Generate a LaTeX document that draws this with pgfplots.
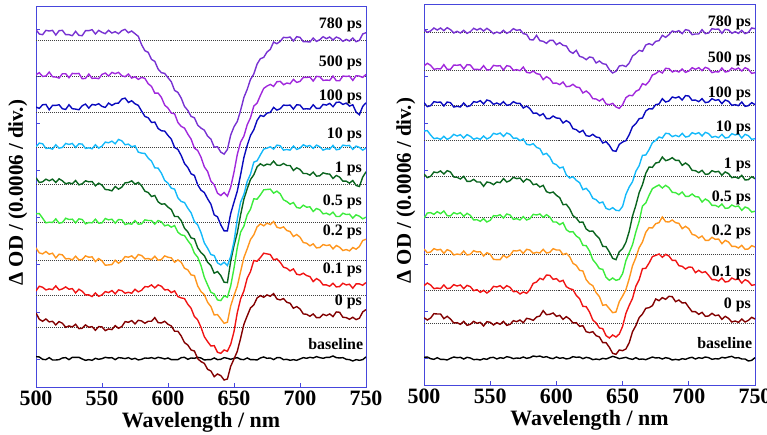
\documentclass[border=0pt]{standalone}
\usepackage{pgfplots}
\pgfplotsset{compat=1.18}
\usepackage{pgfplotstable}
\usepackage{fontspec}
\setmainfont{Liberation Serif}

\definecolor{frameblue}{RGB}{70,70,220}
\definecolor{cBase}{RGB}{0,0,0}
\definecolor{cZero}{RGB}{130,0,0}
\definecolor{cPointOne}{RGB}{240,20,20}
\definecolor{cPointTwo}{RGB}{255,150,30}
\definecolor{cPointFive}{RGB}{60,235,60}
\definecolor{cOne}{RGB}{10,100,30}
\definecolor{cTen}{RGB}{20,185,250}
\definecolor{cHundred}{RGB}{10,10,190}
\definecolor{cFiveHundred}{RGB}{160,40,220}
\definecolor{cSevenEighty}{RGB}{120,50,210}

% Transient absorption difference spectra, offset per delay (arb. units)
% columns: wavelength, baseline, 0, 0.1, 0.2, 0.5, 1, 10, 100, 500, 780 ps
\pgfplotstableread{
wl b d0 d01 d02 d05 d1 d10 d100 d500 d780
500 6 42 13 37 24 20 3 17 6 33
502.5 5 23 27 22 25 6 14 13 12 20
505 -2 17 24 19 11 8 12 24 1 18
507.5 -3 24 16 26 -3 16 -2 25 2 31
510 3 15 19 18 -1 11 -1 9 14 29
512.5 -4 17 17 21 -2 16 -4 22 0 31
515 -4 6 28 7 9 6 9 22 -1 17
517.5 -3 16 16 18 -4 17 -1 24 -4 30
520 2 11 19 16 -2 11 1 12 9 31
522.5 3 -1 25 4 11 2 13 10 9 18
525 -3 3 18 5 7 5 10 24 -3 18
527.5 4 0 20 1 8 2 13 12 10 15
530 4 8 7 12 -3 12 1 11 9 28
532.5 4 -5 18 1 9 -1 12 9 10 16
535 -1 -4 12 2 7 2 11 21 -6 15
537.5 -5 6 1 13 -6 11 -2 26 -5 30
540 -3 -1 1 9 -2 8 0 14 8 30
542.5 -5 1 -4 10 -3 9 -3 25 -5 33
545 1 -10 7 -4 8 -4 9 23 -4 20
547.5 -2 1 -3 5 -4 4 -1 27 -6 31
550 0 0 1 -2 -3 -2 5 19 7 25
552.5 4 -11 11 -15 10 -15 17 16 11 21
555 2 -6 8 -14 6 -16 15 29 2 31
557.5 3 -8 14 -13 8 -19 20 22 13 23
560 -3 4 4 0 -4 -6 12 28 9 27
562.5 3 -4 16 -9 7 -14 25 29 13 21
565 2 1 14 -2 6 -8 21 41 3 30
567.5 0 16 6 11 -8 5 9 44 0 34
570 3 14 9 9 -5 6 11 31 8 24
572.5 -2 19 6 13 -7 11 3 36 -4 29
575 1 9 18 4 4 1 6 27 0 21
577.5 -4 20 10 17 -7 6 -13 22 -8 13
580 -2 18 15 14 -6 -4 -16 5 -2 -12
582.5 2 11 26 4 6 -20 -17 -11 -5 -30
585 1 17 25 5 4 -24 -31 -15 -21 -35
587.5 3 17 31 2 4 -36 -40 -29 -29 -56
590 0 28 22 12 -7 -33 -60 -28 -49 -62
592.5 4 13 31 0 4 -52 -61 -47 -49 -85
595 2 12 27 2 0 -59 -76 -54 -62 -96
597.5 -1 17 16 13 -12 -58 -98 -55 -85 -98
600 2 8 17 9 -9 -68 -106 -68 -94 -111
602.5 -3 3 8 7 -16 -75 -121 -79 -109 -123
605 -3 -13 13 -6 -11 -96 -124 -104 -111 -149
607.5 -3 -13 -4 1 -31 -96 -150 -110 -137 -155
610 3 -27 -8 -6 -39 -108 -161 -128 -149 -172
612.5 4 -47 -10 -24 -41 -131 -164 -152 -154 -197
615 -2 -54 -27 -29 -56 -142 -181 -164 -172 -209
617.5 2 -69 -39 -44 -69 -160 -195 -183 -187 -227
620 1 -72 -64 -46 -94 -163 -221 -188 -214 -231
622.5 4 -95 -74 -77 -106 -190 -231 -216 -221 -253
625 2 -104 -96 -94 -131 -204 -254 -232 -241 -262
627.5 -4 -109 -124 -103 -166 -213 -285 -239 -270 -268
630 -3 -127 -139 -126 -189 -233 -301 -258 -284 -286
632.5 -3 -132 -152 -139 -211 -243 -320 -274 -313 -295
635 2 -149 -151 -164 -216 -266 -323 -306 -324 -319
637.5 -3 -141 -171 -163 -234 -261 -345 -312 -349 -318
640 -2 -146 -174 -176 -236 -273 -351 -336 -356 -334
642.5 3 -159 -164 -189 -222 -293 -343 -354 -347 -340
645 1 -156 -168 -186 -226 -294 -353 -354 -358 -326
647.5 -2 -118 -147 -137 -192 -230 -326 -302 -331 -283
650 1 -96 -109 -106 -139 -183 -281 -268 -286 -258
652.5 3 -73 -52 -78 -77 -145 -214 -235 -233 -242
655 -2 -34 -11 -34 -31 -91 -163 -186 -196 -209
657.5 -3 8 13 8 -13 -44 -140 -134 -178 -170
660 2 33 51 34 21 -13 -101 -98 -144 -146
662.5 -3 57 71 62 38 15 -79 -68 -123 -116
665 -3 66 104 76 69 29 -43 -51 -88 -100
667.5 -4 87 102 100 68 53 -39 -23 -79 -70
670 2 94 113 109 81 62 -21 -8 -56 -54
672.5 5 89 126 103 96 56 -4 -11 -35 -50
675 1 96 124 111 97 61 -1 -1 -28 -34
677.5 2 92 122 107 98 59 3 1 -23 -26
680 -3 100 106 116 86 70 -4 16 -29 -4
682.5 3 84 109 99 92 58 8 8 -15 -9
685 3 81 99 96 84 57 6 12 -14 -2
687.5 -3 85 84 100 66 63 -7 23 -24 10
690 -2 74 81 89 61 57 -5 22 -19 9
692.5 -5 71 73 86 53 57 -7 23 -21 11
695 -3 56 79 71 58 42 5 11 -8 -1
697.5 -5 61 63 77 43 50 -5 24 -17 12
700 -1 54 61 69 41 45 -1 23 -14 10
702.5 3 39 66 53 50 33 9 11 -2 -3
705 1 38 59 51 44 33 4 12 -2 -3
707.5 4 32 56 43 45 28 7 11 -1 -4
710 2 39 41 49 31 37 -2 24 -13 8
712.5 6 28 50 37 40 25 8 13 1 -2
715 3 28 44 38 36 26 3 13 0 3
717.5 1 38 31 47 24 35 -7 25 -11 12
720 4 34 31 44 26 32 -3 23 -10 6
722.5 4 39 27 46 21 31 -4 28 -11 11
725 8 31 36 34 29 18 7 18 2 2
727.5 3 45 25 44 16 27 -6 31 -12 11
730 2 44 26 39 16 22 -4 32 -12 7
732.5 3 29 36 29 26 10 8 25 2 -2
735 -2 28 31 32 22 10 6 29 1 4
737.5 -3 23 33 28 23 4 7 20 2 -1
740 -7 29 21 38 11 12 -5 24 -11 8
742.5 -3 22 34 33 21 -3 5 2 3 -3
745 -5 26 34 41 17 -6 1 -6 2 1
747.5 -3 45 30 59 9 22 -7 19 -2 20
750 5 52 38 63 14 38 -1 30 7 24
}\leftdata

\pgfplotstableread{
wl b d0 d01 d02 d05 d1 d10 d100 d500 d780
500 3 17 13 15 -3 8 27 8 12 9
502.5 4 10 21 4 13 -3 28 -4 20 0
505 -1 16 15 6 14 1 15 -1 14 4
507.5 -3 29 4 16 9 14 4 11 2 13
510 2 28 6 12 17 12 6 9 4 7
512.5 -3 28 4 14 11 17 2 10 3 13
515 -3 14 15 2 19 8 11 -2 16 5
517.5 -5 21 4 13 5 18 2 10 2 14
520 0 13 6 9 4 14 7 8 2 8
522.5 4 1 16 -3 14 -1 17 -5 15 -2
525 2 2 12 0 10 -2 12 -3 14 3
527.5 3 -3 15 -2 14 -7 16 -5 16 -2
530 -2 6 4 9 3 1 6 7 3 6
532.5 3 -6 14 -3 12 -14 16 -4 16 -3
535 1 -3 10 -1 6 -14 11 -1 15 2
537.5 -4 6 -2 10 -8 -8 2 11 2 12
540 -3 0 1 6 -7 -16 6 9 2 7
542.5 -5 3 -7 7 -12 -16 2 14 1 12
545 -1 -8 -1 -6 -4 -29 12 4 13 4
547.5 -3 5 -9 4 -14 -16 3 16 0 12
550 2 3 -2 -1 -9 -18 8 13 1 5
552.5 3 -5 11 -16 5 -24 20 3 14 -4
555 -2 2 9 -17 4 -16 17 7 12 1
557.5 2 -3 13 -17 8 -18 21 2 13 -3
560 0 6 4 -4 -2 -6 11 11 0 6
562.5 5 -6 13 -11 10 -16 21 0 13 -3
565 3 -3 8 -4 7 -12 17 2 11 2
567.5 -1 8 -5 10 -6 -2 5 11 -1 11
570 1 5 -4 9 -4 -6 6 6 1 6
572.5 0 10 -12 12 -8 -4 -2 6 -2 8
575 4 2 -6 2 2 -16 3 -8 9 -4
577.5 0 15 -10 14 -8 -7 -13 -2 -7 -6
580 2 13 1 12 -4 -11 -15 -10 -9 -22
582.5 7 9 20 2 9 -24 -11 -24 -3 -23
585 5 19 24 5 7 -22 -22 -23 -11 -9
587.5 7 22 35 3 10 -31 -26 -31 -13 -25
590 3 38 31 14 0 -26 -44 -25 -29 -27
592.5 5 26 45 3 8 -45 -40 -40 -20 -33
595 1 27 44 5 1 -49 -51 -40 -26 -24
597.5 -1 31 32 16 -14 -46 -70 -32 -40 -24
600 4 21 34 12 -14 -56 -74 -38 -39 -37
602.5 0 24 25 12 -22 -63 -84 -39 -44 -31
605 2 12 29 -2 -16 -84 -81 -53 -36 -39
607.5 -2 20 10 2 -37 -83 -105 -46 -50 -41
610 0 13 4 -8 -44 -96 -114 -52 -49 -57
612.5 5 1 1 -28 -43 -117 -110 -70 -43 -63
615 3 2 -16 -34 -56 -124 -121 -73 -51 -54
617.5 4 -9 -26 -49 -63 -137 -128 -81 -53 -72
620 -1 -7 -49 -51 -84 -136 -149 -75 -69 -75
622.5 3 -25 -50 -77 -85 -157 -145 -91 -63 -82
625 1 -28 -66 -89 -101 -164 -156 -93 -71 -74
627.5 -4 -25 -90 -95 -127 -163 -175 -87 -86 -76
630 -2 -37 -99 -116 -139 -176 -179 -95 -87 -92
632.5 -4 -41 -114 -128 -154 -186 -189 -97 -93 -86
635 0 -58 -116 -154 -156 -209 -186 -113 -86 -94
637.5 -2 -58 -137 -152 -180 -210 -205 -109 -102 -96
640 2 -72 -144 -164 -189 -226 -209 -120 -104 -112
642.5 6 -90 -135 -176 -182 -245 -203 -136 -100 -122
645 3 -93 -141 -174 -189 -249 -211 -138 -111 -117
647.5 -1 -80 -132 -143 -186 -225 -212 -117 -115 -101
650 1 -82 -109 -126 -169 -216 -199 -110 -104 -99
652.5 3 -77 -70 -107 -130 -197 -163 -106 -83 -103
655 -1 -58 -46 -74 -106 -164 -141 -88 -76 -92
657.5 -3 -25 -25 -35 -82 -118 -125 -64 -77 -71
660 2 -7 11 -11 -44 -86 -94 -55 -64 -64
662.5 -3 17 31 19 -12 -48 -77 -40 -59 -54
665 -2 28 64 36 34 -24 -46 -38 -41 -57
667.5 -4 45 65 65 43 10 -45 -17 -45 -38
670 0 47 81 79 66 29 -29 -10 -34 -34
672.5 4 53 100 78 86 28 -8 -11 -15 -38
675 1 73 104 91 92 41 -1 2 -11 -27
677.5 2 68 108 94 97 43 9 4 -3 -25
680 -2 77 98 111 88 59 6 20 -9 -9
682.5 2 72 107 97 96 48 20 10 5 -15
685 0 81 102 96 89 51 19 13 4 -7
687.5 -5 80 89 102 75 57 10 25 -6 4
690 -3 65 89 94 74 49 14 22 -2 1
692.5 -5 70 73 92 68 49 10 26 -6 5
695 -1 61 71 76 76 34 20 16 3 -4
697.5 -3 62 63 83 63 41 9 29 -7 8
700 1 48 69 76 63 34 11 28 -3 6
702.5 3 35 68 59 70 19 22 15 7 -7
705 -2 35 52 56 62 18 18 16 2 -5
707.5 2 27 59 48 61 12 22 11 7 -5
710 0 33 52 54 46 19 12 20 -2 8
712.5 4 21 55 41 55 7 23 8 8 -4
715 2 22 44 41 49 8 19 10 4 -2
717.5 -3 30 31 50 36 18 8 20 -8 11
720 -1 23 31 44 36 14 11 15 -5 9
722.5 -2 25 27 45 31 16 7 17 -6 10
725 3 12 36 31 40 4 17 5 6 -3
727.5 1 21 24 41 27 14 6 16 -6 9
730 4 15 26 36 28 9 8 12 -4 7
732.5 6 4 36 23 37 -3 19 0 6 -3
735 1 7 31 23 32 -1 15 2 1 2
737.5 2 3 33 18 34 -5 18 -1 6 -3
740 -2 13 21 26 21 4 6 10 -3 6
742.5 -2 4 31 14 31 -10 17 -3 7 -4
745 -8 9 26 15 27 -9 13 -1 2 0
747.5 -6 18 14 25 16 0 2 8 -10 13
750 2 13 16 21 18 -6 4 2 -8 11
}\rightdata

\tikzset{
  lbl/.style={anchor=east, inner sep=0pt, font=\bfseries\fontsize{16}{16}\selectfont},
}
\pgfplotsset{
  spectra/.style={
    scale only axis,
    height=381bp,
    xmin=500, xmax=750, ymin=0,
    axis line style={frameblue, line width=0.8pt},
    xtick={500,550,...,750},
    xtick pos=bottom, ytick pos=left,
    tick align=inside,
    major tick length=4bp,
    tick style={frameblue, line width=0.8pt},
    yticklabels={},
    /pgf/number format/assume math mode=true,
    x tick label style={font=\bfseries\fontsize{22}{22}\selectfont, inner sep=4bp},
    xlabel={Wavelength / nm},
    xlabel style={font=\bfseries\fontsize{22}{22}\selectfont, inner sep=0pt,
      at={(axis description cs:0.5,0)}, anchor=north, yshift=-25bp},
    ylabel={Δ OD / (0.0006 / div.)},
    ylabel style={font=\bfseries\fontsize{21}{21}\selectfont,
      at={(axis description cs:-0.04,0.51)}, anchor=base},
    clip=true,
  },
  trace/.style={line width=1.4pt, line join=miter},
  zero line/.style={forget plot, line width=0.6pt, black!75,
    dash pattern=on 0.8pt off 1.2pt},
}

\begin{document}
\begin{tikzpicture}
% ---------------- left panel ----------------
\begin{axis}[spectra, width=330bp, ymax=1142,
  ytick={84,225,366,507,648,789,930,1071}]
  \foreach \off in {1038,930,822,717,607,495,380,275,180}{
    \edef\tmp{\noexpand\addplot[zero line] coordinates {(500,\off) (750,\off)};}\tmp
  }
  \addplot[trace, cBase] table[x=wl, y expr=\thisrow{b}+85]{\leftdata};
  \addplot[trace, cZero] table[x=wl, y expr=\thisrow{d0}+180]{\leftdata};
  \addplot[trace, cPointOne] table[x=wl, y expr=\thisrow{d01}+275]{\leftdata};
  \addplot[trace, cPointTwo] table[x=wl, y expr=\thisrow{d02}+380]{\leftdata};
  \addplot[trace, cPointFive] table[x=wl, y expr=\thisrow{d05}+495]{\leftdata};
  \addplot[trace, cOne] table[x=wl, y expr=\thisrow{d1}+607]{\leftdata};
  \addplot[trace, cTen] table[x=wl, y expr=\thisrow{d10}+717]{\leftdata};
  \addplot[trace, cHundred] table[x=wl, y expr=\thisrow{d100}+822]{\leftdata};
  \addplot[trace, cFiveHundred] table[x=wl, y expr=\thisrow{d500}+930]{\leftdata};
  \addplot[trace, cSevenEighty] table[x=wl, y expr=\thisrow{d780}+1038]{\leftdata};
  \node[lbl] at (axis cs:747,1085) {780 ps};
  \node[lbl] at (axis cs:747,970) {500 ps};
  \node[lbl] at (axis cs:747,870) {100 ps};
  \node[lbl] at (axis cs:747,755) {10 ps};
  \node[lbl] at (axis cs:747,655) {1 ps};
  \node[lbl] at (axis cs:747,555) {0.5 ps};
  \node[lbl] at (axis cs:747,465) {0.2 ps};
  \node[lbl] at (axis cs:747,350) {0.1 ps};
  \node[lbl] at (axis cs:747,255) {0 ps};
  \node[lbl] at (axis cs:748,130) {baseline};
\end{axis}
% ---------------- right panel ----------------
\begin{axis}[spectra, width=331bp, ymax=1143, at={(388bp,2bp)},
  ytick={81,222,363,504,645,786,927,1068}]
  \foreach \off in {1058,945,839,735,625,503,393,285,185}{
    \edef\tmp{\noexpand\addplot[zero line] coordinates {(500,\off) (750,\off)};}\tmp
  }
  \addplot[trace, cBase] table[x=wl, y expr=\thisrow{b}+80]{\rightdata};
  \addplot[trace, cZero] table[x=wl, y expr=\thisrow{d0}+185]{\rightdata};
  \addplot[trace, cPointOne] table[x=wl, y expr=\thisrow{d01}+285]{\rightdata};
  \addplot[trace, cPointTwo] table[x=wl, y expr=\thisrow{d02}+393]{\rightdata};
  \addplot[trace, cPointFive] table[x=wl, y expr=\thisrow{d05}+503]{\rightdata};
  \addplot[trace, cOne] table[x=wl, y expr=\thisrow{d1}+625]{\rightdata};
  \addplot[trace, cTen] table[x=wl, y expr=\thisrow{d10}+735]{\rightdata};
  \addplot[trace, cHundred] table[x=wl, y expr=\thisrow{d100}+839]{\rightdata};
  \addplot[trace, cFiveHundred] table[x=wl, y expr=\thisrow{d500}+945]{\rightdata};
  \addplot[trace, cSevenEighty] table[x=wl, y expr=\thisrow{d780}+1058]{\rightdata};
  \node[lbl] at (axis cs:747,1087) {780 ps};
  \node[lbl] at (axis cs:747,977) {500 ps};
  \node[lbl] at (axis cs:747,873) {100 ps};
  \node[lbl] at (axis cs:747,770) {10 ps};
  \node[lbl] at (axis cs:747,660) {1 ps};
  \node[lbl] at (axis cs:747,560) {0.5 ps};
  \node[lbl] at (axis cs:747,460) {0.2 ps};
  \node[lbl] at (axis cs:747,335) {0.1 ps};
  \node[lbl] at (axis cs:747,240) {0 ps};
  \node[lbl] at (axis cs:748,125) {baseline};
\end{axis}
\pgfresetboundingbox
\path[use as bounding box] (-36bp,-48bp) rectangle (731bp,387bp);
\end{tikzpicture}
\end{document}
